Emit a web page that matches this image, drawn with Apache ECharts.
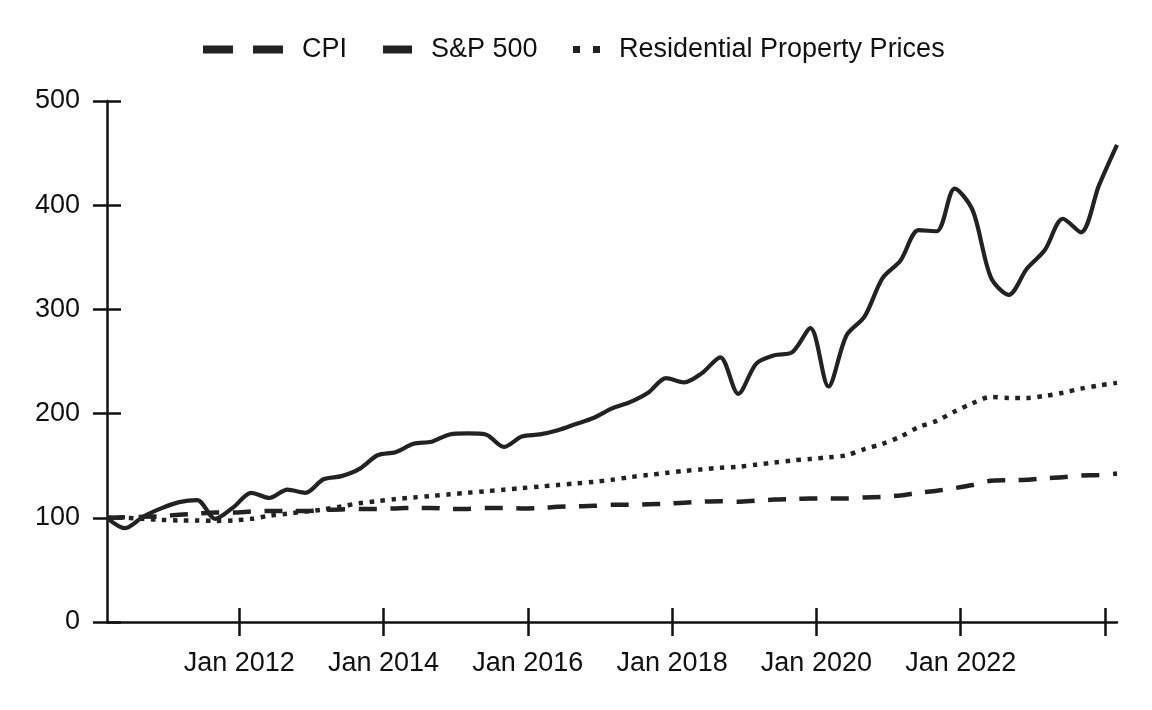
<!DOCTYPE html>
<html>
<head>
<meta charset="utf-8">
<script src="https://cdn.jsdelivr.net/npm/echarts@6/dist/echarts.min.js"></script>
<style>
  html, body { margin: 0; padding: 0; background: #fff; }
  #main { width: 1152px; height: 710px; }
</style>
</head>
<body>
<div id="main"></div>
<script>
// quarterly observations, indexed to 100 at the start
var quarters = [
  '2010-03', '2010-06', '2010-09', '2010-12',
  '2011-03', '2011-06', '2011-09', '2011-12',
  '2012-03', '2012-06', '2012-09', '2012-12',
  '2013-03', '2013-06', '2013-09', '2013-12',
  '2014-03', '2014-06', '2014-09', '2014-12',
  '2015-03', '2015-06', '2015-09', '2015-12',
  '2016-03', '2016-06', '2016-09', '2016-12',
  '2017-03', '2017-06', '2017-09', '2017-12',
  '2018-03', '2018-06', '2018-09', '2018-12',
  '2019-03', '2019-06', '2019-09', '2019-12',
  '2020-03', '2020-06', '2020-09', '2020-12',
  '2021-03', '2021-06', '2021-09', '2021-12',
  '2022-03', '2022-06', '2022-09', '2022-12',
  '2023-03', '2023-06', '2023-09', '2023-12',
  '2024-03'
];

var cpi = [
  100, 100.5, 101, 101.5, 103, 104, 105, 105, 106, 106.5,
  106.5, 106.5, 107.5, 108, 108.5, 108.5, 109, 109.5, 109.5, 108.5,
  108.5, 109.5, 109.5, 109, 109.5, 110.5, 111, 111.5, 112.5, 112.5,
  113, 113.5, 114.5, 115.5, 116, 115.5, 116.5, 117.5, 118, 118.5,
  118.5, 118.5, 119.5, 120, 121.5, 124, 126, 128.5, 131.5, 135.5,
  136, 136.5, 138, 139, 140.5, 141, 142.5
];

var sp500 = [
  100, 90, 101, 109, 115, 117, 99, 110, 124, 119,
  127, 124, 137, 140, 147, 160, 163, 171, 173, 180,
  181, 180, 168, 178, 180, 184, 190, 196, 205, 211,
  220, 234, 230, 239, 254, 219, 248, 256, 259, 282,
  226, 275, 293, 330, 347, 376, 375, 416, 395, 331,
  314, 339, 357, 387, 374, 419, 458
];

var housing = [
  100, 100, 99, 98, 97.5, 97.5, 97, 97.5, 99, 102,
  104, 106, 108, 111, 114, 116, 118, 119.5, 121, 122.5,
  124, 125.5, 127, 128.5, 130, 131.5, 133, 134.5, 136.5, 139,
  141, 143, 145, 146.5, 148, 149, 151, 153, 155, 156.5,
  158, 160, 166, 171, 178, 187, 193, 202, 210, 216,
  215, 215, 217, 220, 224, 227, 229.5
];

var tickYears = [2012, 2014, 2016, 2018, 2020, 2022, 2024];
var labelYears = [2012, 2014, 2016, 2018, 2020, 2022];

var ink = '#222';
var textInk = '#111';
var font = 'Liberation Sans, Arial, sans-serif';

function toYear(q) {
  var p = q.split('-');
  return +p[0] + (p[1] - 1) / 12;
}
function pairs(vals) {
  return quarters.map(function (q, i) { return [toYear(q), vals[i]]; });
}

var xMin = toYear(quarters[0]);
var xMax = toYear(quarters[quarters.length - 1]);
var axisLineStyle = { color: '#111', width: 2.5 };

var myChart = echarts.init(document.getElementById('main'));

var legendText = { fontSize: 27, color: textInk, fontFamily: font, padding: [0, 0, 0, 14] };

var option = {
  animation: false,
  backgroundColor: '#fff',
  grid: { left: 107, right: 35, top: 101, bottom: 88, containLabel: false },
  legend: [{
    data: [{ name: 'CPI', icon: 'path://M0,0H30V8H0Z M50,0H80V8H50Z' }],
    left: 203, top: 36, padding: 0, itemWidth: 80, itemHeight: 8,
    selectedMode: false, textStyle: legendText
  }, {
    data: [{ name: 'S&P 500', icon: 'rect' }],
    left: 383, top: 36, padding: 0, itemWidth: 29, itemHeight: 8,
    selectedMode: false, textStyle: legendText
  }, {
    data: [{ name: 'Residential Property Prices', icon: 'path://M0,0H7V7H0Z M20,0H27V7H20Z' }],
    left: 573, top: 36, padding: 0, itemWidth: 27, itemHeight: 7,
    selectedMode: false, textStyle: legendText
  }],
  xAxis: [{
    type: 'value', position: 'bottom', min: xMin, max: xMax,
    axisLine: { show: true, onZero: false, lineStyle: axisLineStyle },
    axisTick: { show: true, length: 14, customValues: tickYears, lineStyle: axisLineStyle },
    axisLabel: {
      customValues: labelYears, margin: 28, fontSize: 27, color: textInk, fontFamily: font,
      formatter: function (v) { return 'Jan ' + Math.round(v); }
    },
    splitLine: { show: false }
  }, {
    type: 'value', position: 'bottom', offset: 0, min: xMin, max: xMax,
    axisLine: { show: false },
    axisTick: { show: true, inside: true, length: 14, customValues: tickYears, lineStyle: axisLineStyle },
    axisLabel: { show: false },
    splitLine: { show: false }
  }],
  yAxis: [{
    type: 'value', position: 'left', min: 0, max: 500, interval: 100,
    axisLine: { show: true, lineStyle: axisLineStyle },
    axisTick: { show: true, length: 14, lineStyle: axisLineStyle },
    axisLabel: { margin: 27, fontSize: 27, color: textInk, fontFamily: font },
    splitLine: { show: false }
  }, {
    type: 'value', position: 'left', offset: 0, min: 0, max: 500, interval: 100,
    axisLine: { show: false },
    axisTick: { show: true, inside: true, length: 14, lineStyle: axisLineStyle },
    axisLabel: { show: false },
    splitLine: { show: false }
  }],
  series: [{
    name: 'CPI', type: 'line', data: pairs(cpi), symbol: 'none', smooth: 0.3,
    itemStyle: { color: ink },
    lineStyle: { color: ink, width: 4.5, type: [18, 13.5] }
  }, {
    name: 'S&P 500', type: 'line', data: pairs(sp500), symbol: 'none', smooth: 0.3,
    itemStyle: { color: ink },
    lineStyle: { color: ink, width: 4.2 }
  }, {
    name: 'Residential Property Prices', type: 'line', data: pairs(housing), symbol: 'none', smooth: 0.3,
    itemStyle: { color: ink },
    lineStyle: { color: ink, width: 4.5, type: [4.5, 6.5] }
  }]
};

myChart.setOption(option);
</script>
</body>
</html>
